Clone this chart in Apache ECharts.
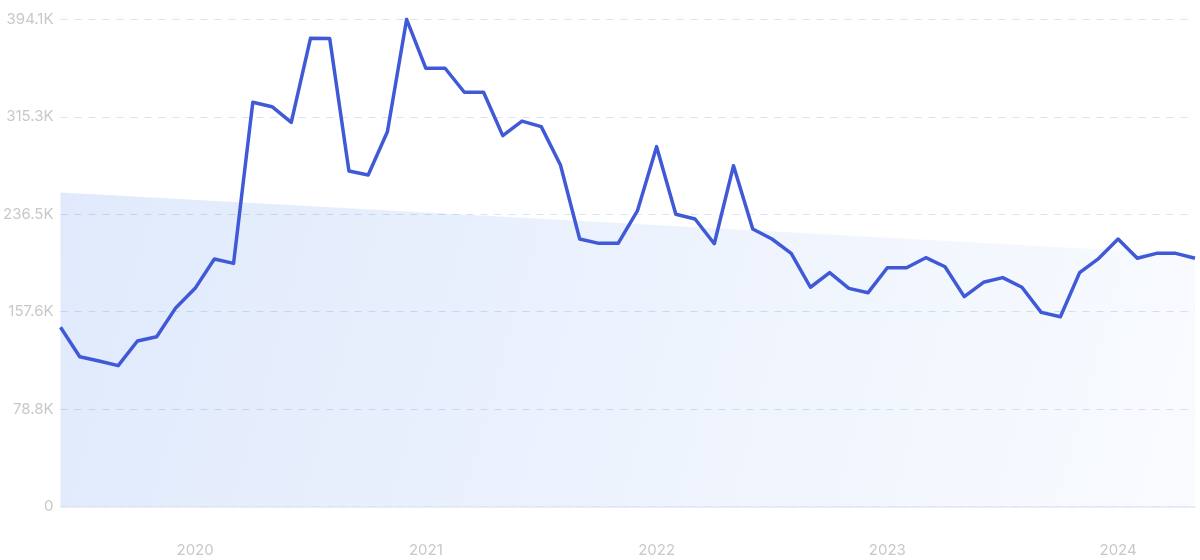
<!DOCTYPE html>
<html>
<head>
<meta charset="utf-8">
<script src="https://cdn.jsdelivr.net/npm/echarts@6/dist/echarts.min.js"></script>
<style>
  html, body { margin: 0; padding: 0; background: #ffffff; }
  #chart { width: 1200px; height: 560px; }
</style>
</head>
<body>
<div id="chart"></div>
<script>
// Monthly categories, Jun 2019 – May 2024
const months = [
  '2019-06','2019-07','2019-08','2019-09','2019-10','2019-11','2019-12',
  '2020-01','2020-02','2020-03','2020-04','2020-05','2020-06','2020-07','2020-08','2020-09','2020-10','2020-11','2020-12',
  '2021-01','2021-02','2021-03','2021-04','2021-05','2021-06','2021-07','2021-08','2021-09','2021-10','2021-11','2021-12',
  '2022-01','2022-02','2022-03','2022-04','2022-05','2022-06','2022-07','2022-08','2022-09','2022-10','2022-11','2022-12',
  '2023-01','2023-02','2023-03','2023-04','2023-05','2023-06','2023-07','2023-08','2023-09','2023-10','2023-11','2023-12',
  '2024-01','2024-02','2024-03','2024-04','2024-05'
];

// Search volume (thousands)
const volumeK = [
  145.0, 121.2, 117.8, 114.0, 133.9, 137.4, 160.9,
  176.5, 200.2, 196.7, 327.0, 323.4, 310.8, 378.7, 378.5, 271.4, 268.2, 303.2, 394.1,
  354.5, 354.5, 335.1, 335.1, 300.0, 311.8, 307.3, 276.3, 216.4, 212.9, 212.9, 239.1,
  291.1, 236.4, 232.6, 212.6, 275.7, 224.5, 216.4, 204.8, 177.4, 189.2, 176.5, 173.0,
  193.2, 193.2, 201.3, 194.0, 169.8, 181.4, 185.2, 177.4, 157.1, 153.6, 189.2, 200.8,
  216.4, 200.8, 204.8, 204.8, 200.8
];

// Trend line end values (thousands): first and last month
const trendStartK = 254.1;
const trendEndK = 203.8;

// Y tick labels
const yTickLabels = ['0', '78.8K', '157.6K', '236.5K', '315.3K', '394.1K'];
const yMax = 394100;
const yInterval = yMax / 5;

const volume = volumeK.map(v => v * 1000);
const trend = months.map((m, i) =>
  i === 0 ? trendStartK * 1000 : (i === months.length - 1 ? trendEndK * 1000 : null));

const chart = echarts.init(document.getElementById('chart'), null, { renderer: 'canvas' });

chart.setOption({
  animation: false,
  backgroundColor: '#ffffff',
  grid: { left: 59, right: 5, top: 19.3, bottom: 53.4, containLabel: false },
  xAxis: {
    type: 'category',
    data: months,
    boundaryGap: false,
    axisLine: { show: true, lineStyle: { color: '#e1e8f6', width: 1.5 } },
    axisTick: { show: false },
    splitLine: { show: false },
    axisLabel: {
      margin: 36,
      color: '#c8c8c8',
      fontFamily: 'Inter',
      fontSize: 15,
      interval: (idx, val) => val.slice(5) === '01',
      formatter: (val) => val.slice(0, 4)
    }
  },
  yAxis: {
    type: 'value',
    min: 0,
    max: yMax,
    interval: yInterval,
    axisLine: { show: false },
    axisTick: { show: false },
    splitLine: { show: true, lineStyle: { color: '#d9e1f3', type: [7, 7], width: 1 } },
    axisLabel: {
      margin: 7,
      color: '#c8c8c8',
      fontFamily: 'Inter',
      fontSize: 15,
      formatter: (v) => yTickLabels[Math.round(v / yInterval)]
    }
  },
  series: [
    {
      name: 'trend',
      type: 'line',
      data: trend,
      connectNulls: true,
      symbol: 'none',
      silent: true,
      lineStyle: { width: 0, opacity: 0 },
      areaStyle: {
        opacity: 1,
        color: new echarts.graphic.LinearGradient(0, 0, 1, 1, [
          { offset: 0, color: 'rgba(100,150,240,0.2)' },
          { offset: 1, color: 'rgba(100,150,240,0.04)' }
        ])
      },
      z: 1
    },
    {
      name: 'volume',
      type: 'line',
      data: volume,
      symbol: 'none',
      smooth: false,
      lineStyle: { color: '#4059d6', width: 3.5, join: 'round' },
      z: 3
    }
  ]
});
</script>
</body>
</html>
